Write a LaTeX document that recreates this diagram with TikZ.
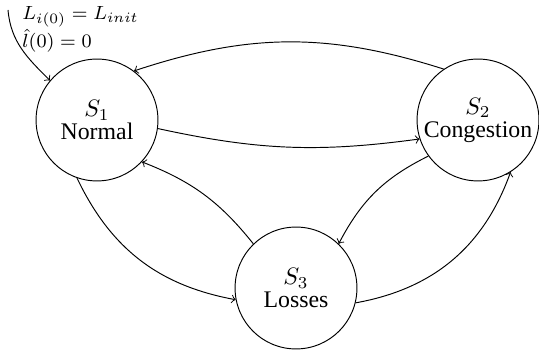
\documentclass[tikz,border=0pt]{standalone}
\usepackage{fontspec}
\setmainfont{Liberation Serif}
\begin{document}
\begin{tikzpicture}[x=0.42pt,y=0.42pt,
  state/.style={circle,draw,minimum size=51.2pt,inner sep=0pt,align=center,
    font=\fontsize{10pt}{9.7pt}\selectfont},
  edge/.style={->,line width=0.4pt}]
\useasboundingbox (0,0) rectangle (539,-354);
\node[state] (S1) at (97,-120) {$S_1$\\Normal};
\node[state] (S2) at (478,-120) {$S_2$\\Congestion};
\node[state] (S3) at (296,-288) {$S_3$\\Losses};
\node[anchor=north west,inner sep=0pt,align=left,font=\footnotesize] (lab) at (22,-6)
  {$L_{i(0)} = L_{init}$\\$\hat{l}(0) = 0$};
\coordinate (init) at (8,-10);
\draw[edge] (init) to[out=-85,in=135] (S1.140);
\draw[edge] (S2.124) to[bend right=18] (S1.53);
\draw[edge] (S1.-8) to[bend right=10] (S2.198);
\draw[edge] (S2.216) to[bend right=18] (S3.46);
\draw[edge] (S3.134) to[bend right=15] (S1.-43);
\draw[edge] (S1.-109) to[bend right=27] (S3.191);
\draw[edge] (S3.-14) to[bend right=30] (S2.-58);
\end{tikzpicture}
\end{document}
